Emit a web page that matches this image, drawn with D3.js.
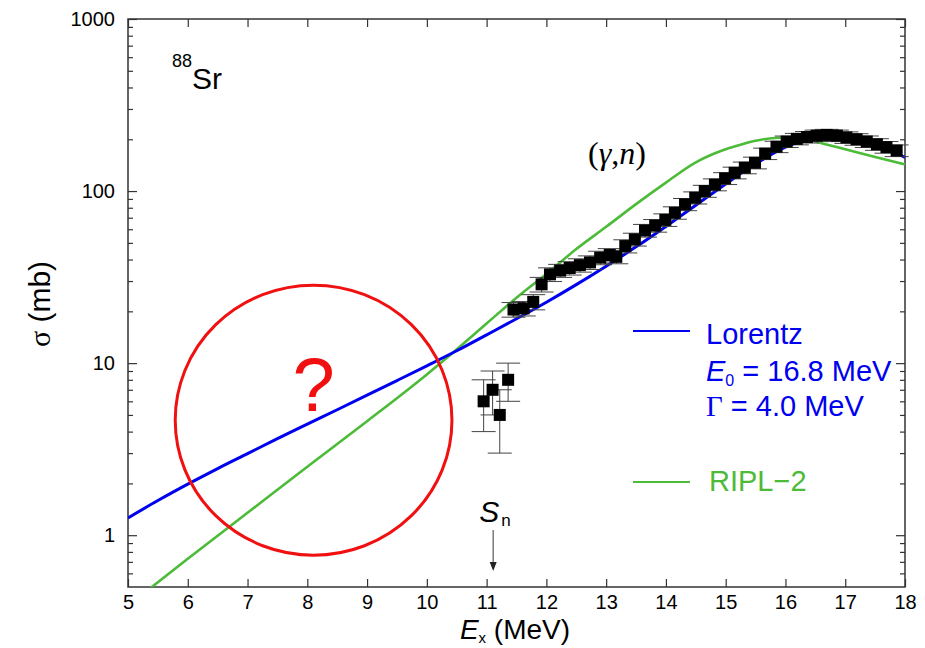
<!DOCTYPE html>
<html>
<head>
<meta charset="utf-8">
<script src="https://cdn.jsdelivr.net/npm/d3@7"></script>
<style>
body { margin: 0; background: #fff; }
svg text { font-family: "Liberation Sans", Arial, sans-serif; }
</style>
</head>
<body>
<div id="chart"></div>
<script>
// measured (gamma,n) points, 88Sr
var dataE = [10.95, 11.10, 11.22, 11.36, 11.45, 11.62, 11.78, 11.92, 12.06, 12.23, 12.39, 12.56, 12.73, 12.90,
  13.06, 13.17, 13.32, 13.48, 13.65, 13.82, 13.99, 14.15, 14.32, 14.49, 14.65, 14.82, 14.99, 15.15, 15.32,
  15.49, 15.66, 15.85, 16.02, 16.19, 16.36, 16.52, 16.69, 16.86, 17.02, 17.19, 17.36, 17.53, 17.69, 17.86];
var dataSigma = [6, 7, 5, 8, 20.5, 20.8, 22.7, 28.7, 32.8, 34.5, 35.7, 37.1, 38.5, 41,
  42.5, 41.5, 47.9, 52.4, 59, 63, 68, 74.8, 83.7, 91.5, 100, 109, 118.5, 127.7, 136.7,
  146, 165, 181, 194, 201, 206, 210, 212, 210, 205, 200, 194, 187, 180, 172];
var dataErr = [2, 2, 2, 2, 2, 2, 2.3, 2.8, 3, 3, 3.2, 3.3, 3.5, 3.7,
  3.8, 3.7, 4.2, 4.5, 5, 5.3, 5.7, 6.2, 6.8, 7.4, 8, 8.7, 9.4, 10, 10.7,
  11.4, 12.6, 13.8, 14.8, 15.4, 15.8, 16.1, 16.3, 16.1, 15.8, 15.4, 15, 14.5, 14, 13.4];

// Lorentz curve (E0 = 16.8 MeV, Gamma = 4.0 MeV)
var lorentzE = [5, 5.5, 6, 6.5, 7, 7.5, 8, 8.5, 9, 9.5, 10, 10.5, 11, 11.5, 12, 12.5, 13, 13.5,
  14, 14.5, 15, 15.5, 16, 16.5, 16.8, 17, 17.5, 18];
var lorentzSigma = [1.26, 1.59, 1.98, 2.44, 2.98, 3.64, 4.42, 5.36, 6.51, 7.92, 9.65, 11.8, 14.6, 18.1,
  22.6, 28.6, 36.6, 47.4, 62.3, 82.7, 110, 144, 180, 205, 210, 208, 188, 157];

// RIPL-2 curve
var riplE = [5.3, 6, 7, 8, 9, 10, 10.3, 11, 11.5, 12, 12.5, 13, 13.5, 14, 14.5, 14.75, 15, 15.25, 15.5, 15.9,
  16.2, 16.45, 16.65, 17, 17.5, 18];
var riplSigma = [0.47, 0.73, 1.35, 2.5, 4.6, 8.6, 10.5, 17, 24, 33, 46, 62, 84, 112, 147, 162, 175, 186, 196, 204,
  203, 196, 188, 175, 158, 143];

var xTicks = [5, 6, 7, 8, 9, 10, 11, 12, 13, 14, 15, 16, 17, 18];
var yMajor = [1, 10, 100, 1000];
var yTickLabels = ['1', '10', '100', '1000'];
var yMinor = [0.6, 0.7, 0.8, 0.9, 2, 3, 4, 5, 6, 7, 8, 9, 20, 30, 40, 50, 60, 70, 80, 90,
  200, 300, 400, 500, 600, 700, 800, 900];
var sepEnergy = 11.11;
// red circle extent, in data units
var circleE = [5.79, 10.42];
var circleSigma = [0.765, 28.4];

var margin = {top: 19, right: 20, bottom: 61, left: 128},
  width = 925 - margin.left - margin.right,
  height = 648 - margin.top - margin.bottom;

var x = d3.scaleLinear().domain([5, 18]).range([margin.left, margin.left + width]);
var y = d3.scaleLog().domain([0.5, 1000]).range([margin.top + height, margin.top]);

var blue = '#0000f0', green = '#4cbb38', red = '#f01010', axisCol = '#333';

var svg = d3.select('#chart').append('svg')
  .attr('width', 925)
  .attr('height', 648)
  .style('background', '#fff');

svg.append('defs').append('clipPath').attr('id', 'plot')
  .append('rect')
  .attr('x', margin.left).attr('y', margin.top)
  .attr('width', width).attr('height', height);

function styleAxis(g) {
  g.select('.domain').remove();
  g.selectAll('line').attr('stroke', axisCol).attr('stroke-width', 1.2);
  g.selectAll('text')
    .attr('font-size', 20)
    .attr('fill', '#000')
    .attr('font-family', '"Liberation Sans", Arial, sans-serif');
}

// axes (ticks pointing inward)
svg.append('g')
  .attr('transform', 'translate(0,' + (margin.top + height) + ')')
  .call(d3.axisBottom(x).tickValues(xTicks).tickSize(-8).tickPadding(8).tickFormat(d3.format('d')))
  .call(styleAxis);
svg.append('g')
  .attr('transform', 'translate(0,' + margin.top + ')')
  .call(d3.axisTop(x).tickValues(xTicks).tickSize(-8).tickFormat(''))
  .call(styleAxis);
svg.append('g')
  .attr('transform', 'translate(' + margin.left + ',0)')
  .call(d3.axisLeft(y).tickValues(yMajor).tickSize(-9).tickPadding(13)
    .tickFormat(function(d, i) { return yTickLabels[i]; }))
  .call(styleAxis);
svg.append('g')
  .attr('transform', 'translate(' + margin.left + ',0)')
  .call(d3.axisLeft(y).tickValues(yMinor).tickSize(-5).tickFormat(''))
  .call(styleAxis);
svg.append('g')
  .attr('transform', 'translate(' + (margin.left + width) + ',0)')
  .call(d3.axisRight(y).tickValues(yMajor).tickSize(-9).tickFormat(''))
  .call(styleAxis);
svg.append('g')
  .attr('transform', 'translate(' + (margin.left + width) + ',0)')
  .call(d3.axisRight(y).tickValues(yMinor).tickSize(-5).tickFormat(''))
  .call(styleAxis);

svg.append('rect')
  .attr('x', margin.left).attr('y', margin.top)
  .attr('width', width).attr('height', height)
  .attr('fill', 'none')
  .attr('stroke', axisCol)
  .attr('stroke-width', 1.5);

var line = d3.line()
  .x(function(d) { return x(d[0]); })
  .y(function(d) { return y(d[1]); })
  .curve(d3.curveMonotoneX);

var plot = svg.append('g').attr('clip-path', 'url(#plot)');

plot.append('path')
  .datum(d3.zip(riplE, riplSigma))
  .attr('d', line)
  .attr('fill', 'none')
  .attr('stroke', green)
  .attr('stroke-width', 2.6);

// red circle + question mark
var cx0 = (x(circleE[0]) + x(circleE[1])) / 2,
  cy0 = (y(circleSigma[0]) + y(circleSigma[1])) / 2;
svg.append('ellipse')
  .attr('cx', cx0).attr('cy', cy0)
  .attr('rx', (x(circleE[1]) - x(circleE[0])) / 2)
  .attr('ry', (y(circleSigma[0]) - y(circleSigma[1])) / 2)
  .attr('fill', 'none')
  .attr('stroke', red)
  .attr('stroke-width', 3);
svg.append('text')
  .attr('x', cx0).attr('y', cy0 - 9)
  .attr('text-anchor', 'middle')
  .attr('font-size', 76)
  .attr('fill', red)
  .text('?');

// data with error bars
var pts = d3.range(dataE.length).map(function(i) {
  return {e: dataE[i], s: dataSigma[i], err: dataErr[i]};
});
var capW = 12;
var eb = svg.append('g').attr('stroke', '#444').attr('stroke-width', 1);
eb.selectAll('.vbar').data(pts).enter().append('line')
  .attr('x1', function(d) { return x(d.e); })
  .attr('x2', function(d) { return x(d.e); })
  .attr('y1', function(d) { return y(d.s + d.err); })
  .attr('y2', function(d) { return y(d.s - d.err); });
eb.selectAll('.captop').data(pts).enter().append('line')
  .attr('x1', function(d) { return x(d.e) - capW; })
  .attr('x2', function(d) { return x(d.e) + capW; })
  .attr('y1', function(d) { return y(d.s + d.err); })
  .attr('y2', function(d) { return y(d.s + d.err); });
eb.selectAll('.capbot').data(pts).enter().append('line')
  .attr('x1', function(d) { return x(d.e) - capW; })
  .attr('x2', function(d) { return x(d.e) + capW; })
  .attr('y1', function(d) { return y(d.s - d.err); })
  .attr('y2', function(d) { return y(d.s - d.err); });

svg.selectAll('.sq').data(pts).enter().append('rect')
  .attr('x', function(d) { return x(d.e) - 6; })
  .attr('y', function(d) { return y(d.s) - 6; })
  .attr('width', 12)
  .attr('height', 12)
  .attr('fill', '#000');

plot.append('path')
  .datum(d3.zip(lorentzE, lorentzSigma))
  .attr('d', line)
  .attr('fill', 'none')
  .attr('stroke', blue)
  .attr('stroke-width', 3);

// labels
var sr = svg.append('text').attr('x', 172).attr('y', 89);
sr.append('tspan').attr('font-size', 18).attr('dy', -22).text('88');
sr.append('tspan').attr('font-size', 30).attr('dy', 22).text('Sr');

var gn = svg.append('text').attr('x', 588).attr('y', 164)
  .attr('font-size', 32)
  .style('font-family', '"Liberation Serif", "Times New Roman", serif');
gn.append('tspan').text('(');
gn.append('tspan').attr('font-style', 'italic').text('\u03b3');
gn.append('tspan').text(',');
gn.append('tspan').attr('font-style', 'italic').text('n');
gn.append('tspan').text(')');

// separation energy marker
var sx = x(sepEnergy);
var sn = svg.append('text').attr('x', sx - 14).attr('y', 522).attr('font-size', 30);
sn.append('tspan').attr('font-style', 'italic').text('S');
sn.append('tspan').attr('font-size', 17).attr('dy', 4).attr('dx', 2).text('n');
svg.append('line')
  .attr('x1', sx).attr('x2', sx)
  .attr('y1', 530).attr('y2', 564)
  .attr('stroke', '#666').attr('stroke-width', 1.3);
svg.append('path')
  .attr('d', 'M' + (sx - 3.5) + ',562 L' + (sx + 3.5) + ',562 L' + sx + ',571 Z')
  .attr('fill', '#222');

// legend
svg.append('line')
  .attr('x1', 633).attr('x2', 690).attr('y1', 331).attr('y2', 331)
  .attr('stroke', blue).attr('stroke-width', 2);
svg.append('text').attr('x', 706).attr('y', 344).attr('font-size', 29).attr('fill', blue).text('Lorentz');
var e0 = svg.append('text').attr('x', 706).attr('y', 381).attr('font-size', 29).attr('fill', blue);
e0.append('tspan').attr('font-style', 'italic').text('E');
e0.append('tspan').attr('font-size', 16).attr('dy', 5).text('0');
e0.append('tspan').attr('dy', -5).text(' = 16.8 MeV');
var gm = svg.append('text').attr('x', 706).attr('y', 416).attr('font-size', 29).attr('fill', blue);
gm.append('tspan').style('font-family', '"Liberation Serif", "Times New Roman", serif').text('\u0393');
gm.append('tspan').text(' = 4.0 MeV');

svg.append('line')
  .attr('x1', 633).attr('x2', 690).attr('y1', 482).attr('y2', 482)
  .attr('stroke', green).attr('stroke-width', 2);
svg.append('text').attr('x', 709).attr('y', 491).attr('font-size', 29).attr('fill', green).text('RIPL\u22122');

// axis titles
var xt = svg.append('text').attr('x', 515).attr('y', 639).attr('text-anchor', 'middle').attr('font-size', 28);
xt.append('tspan').attr('font-style', 'italic').text('E');
xt.append('tspan').attr('font-size', 15).attr('dy', 4).text('x');
xt.append('tspan').attr('dy', -4).text(' (MeV)');

var yt = svg.append('text')
  .attr('text-anchor', 'middle')
  .attr('transform', 'translate(50,' + (margin.top + height / 2 + 1) + ')rotate(-90)')
  .attr('font-size', 30);
yt.append('tspan').style('font-family', '"Liberation Serif", "Times New Roman", serif').text('\u03c3');
yt.append('tspan').text(' (mb)');
</script>
</body>
</html>
